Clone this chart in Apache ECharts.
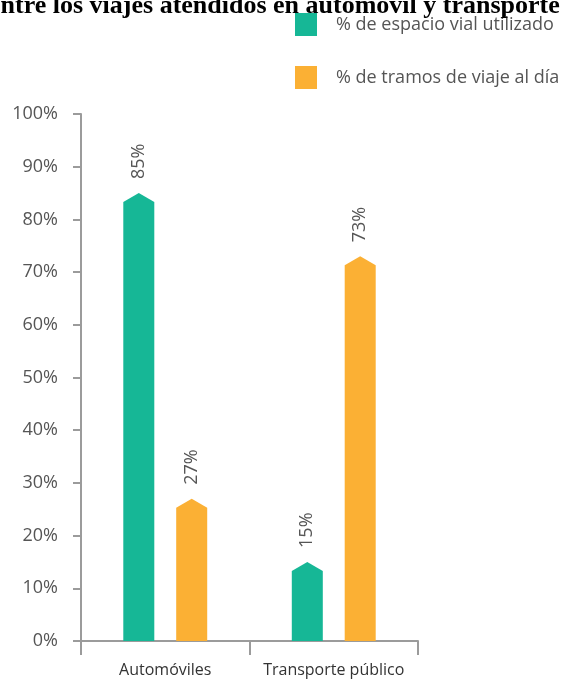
<!DOCTYPE html>
<html><head><meta charset="utf-8">
<script src="https://cdn.jsdelivr.net/npm/echarts@6.0.0/dist/echarts.min.js"></script>
<style>html,body{margin:0;padding:0;background:#fff}#c{width:566px;height:684px}</style>
</head><body><div id="c"></div>
<script>
const titleText = "entre los viajes atendidos en automóvil y transporte público";
const categories = ["Automóviles", "Transporte público"];
const seriesNames = ["% de espacio vial utilizado", "% de tramos de viaje al día"];
const espacioVial = [85, 15];
const tramosViaje = [27, 73];
const colors = ["#16b796", "#fbb034"];

const FONT = '"Open Sans", "DejaVu Sans", sans-serif';

function makeRender(offsetFrac) {
  return function (params, api) {
    const cat = api.value(0), val = api.value(1);
    const top = api.coord([cat, val]);
    const base = api.coord([cat, 0]);
    const band = api.size([1, 0])[0];
    const w = band * 0.184;
    const cx = top[0] + band * offsetFrac;
    const tip = 9;
    return {
      type: 'group',
      children: [
        { type: 'polygon',
          shape: { points: [[cx - w / 2, base[1]], [cx - w / 2, top[1] + tip], [cx, top[1]], [cx + w / 2, top[1] + tip], [cx + w / 2, base[1]]] },
          style: { fill: api.visual('color') } },
        { type: 'text', x: cx, y: top[1] - 14, rotation: Math.PI / 2,
          style: { text: val + '%', align: 'left', verticalAlign: 'middle', fill: '#555', font: '18px ' + FONT } }
      ]
    };
  };
}

const chart = echarts.init(document.getElementById('c'), null, { renderer: 'canvas' });
chart.setOption({
  backgroundColor: '#fff',
  animation: false,
  graphic: [{
    type: 'text', left: -11, top: -7, z: 10,
    style: { text: titleText, fill: '#000', font: 'bold 26px "Liberation Serif", "Times New Roman", serif' }
  }],
  legend: {
    orient: 'vertical', left: 290, top: 8, itemWidth: 22, itemHeight: 23, itemGap: 30,
    icon: 'rect', data: seriesNames,
    textStyle: { fontSize: 18, color: '#555', fontFamily: FONT, padding: [0, 0, 0, 14] }
  },
  grid: { left: 81, right: 148, top: 114, bottom: 43, containLabel: false },
  xAxis: {
    type: 'category', data: categories, boundaryGap: true,
    axisLine: { lineStyle: { color: '#9b9b9b', width: 2 } },
    axisTick: { show: true, length: 14, lineStyle: { color: '#9b9b9b', width: 2 } },
    axisLabel: { interval: 0, hideOverlap: false, color: '#333', fontSize: 16, fontFamily: FONT, margin: 21 }
  },
  yAxis: {
    type: 'value', min: 0, max: 100, interval: 10,
    axisLine: { show: true, lineStyle: { color: '#9b9b9b', width: 2 } },
    axisTick: { show: true, length: 8, lineStyle: { color: '#9b9b9b', width: 2 } },
    splitLine: { show: false },
    axisLabel: { formatter: '{value}%', color: '#555', fontSize: 18, fontFamily: FONT, margin: 23 }
  },
  series: [
    { name: seriesNames[0], type: 'custom', itemStyle: { color: colors[0] },
      encode: { x: 0, y: 1 }, renderItem: makeRender(-0.157),
      data: espacioVial.map((v, i) => [i, v]) },
    { name: seriesNames[1], type: 'custom', itemStyle: { color: colors[1] },
      encode: { x: 0, y: 1 }, renderItem: makeRender(0.157),
      data: tramosViaje.map((v, i) => [i, v]) }
  ]
});
</script></body></html>
